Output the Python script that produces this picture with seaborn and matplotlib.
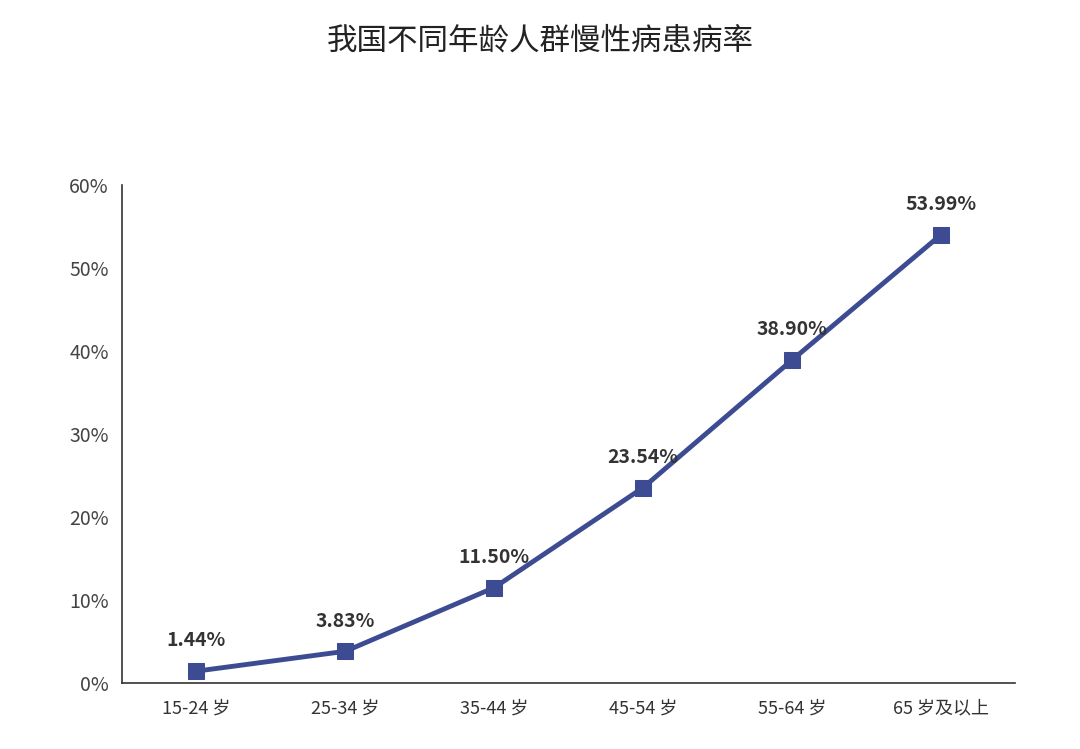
import matplotlib
matplotlib.use("Agg")
import matplotlib.pyplot as plt
import seaborn as sns
import pandas as pd
import numpy as np

categories = ["15-24 岁", "25-34 岁", "35-44 岁", "45-54 岁", "55-64 岁", "65 岁及以上"]
values = [1.44, 3.83, 11.50, 23.54, 38.90, 53.99]
title = "我国不同年龄人群慢性病患病率"

sns.set_style("white")
plt.rcParams['font.family'] = ['Noto Sans CJK SC', 'DejaVu Sans']

df = pd.DataFrame({"cat": categories, "val": np.array(values) / 100})
fig = plt.figure(figsize=(10.8, 7.49), dpi=100)
ax = fig.add_axes([0.113, 0.088, 0.827, 0.665])
color = "#3d4c92"
sns.lineplot(data=df, x="cat", y="val", ax=ax, color=color, lw=3.5, marker="s",
             markersize=11, markeredgecolor=color, sort=False)
for i, v in enumerate(values):
    ax.text(i, v / 100 + 0.025, f"{v:.2f}%", ha="center", va="bottom",
            fontsize=14, fontweight="bold", color="#333333")
ax.set_xlim(-0.5, 5.5)
ax.set_ylim(0, 0.6)
ax.set_yticks(np.arange(0, 0.61, 0.1))
ax.set_yticklabels([f"{int(round(t*100))}%" for t in np.arange(0, 0.61, 0.1)])
ax.set_xticks(range(6))
ax.set_xticks(np.arange(-0.5, 5.6, 1), minor=True)
ax.tick_params(axis="x", which="major", length=0, pad=12, labelsize=13, labelcolor="#333333")
ax.tick_params(axis="x", which="minor", length=6, width=1.2, color="#333333", direction="out")
ax.tick_params(axis="y", length=6, width=1.2, color="#333333", direction="out", labelsize=14, labelcolor="#444444")
ax.tick_params(axis="x", which="major", bottom=False)
ax.set_xlabel("")
ax.set_ylabel("")
for s in ["top", "right"]:
    ax.spines[s].set_visible(False)
for s in ["left", "bottom"]:
    ax.spines[s].set_color("#333333")
    ax.spines[s].set_linewidth(1.2)
fig.text(0.5, 0.945, title, ha="center", va="center", fontsize=22, color="#222222")
fig.savefig("out.png", dpi=100, facecolor="white")
